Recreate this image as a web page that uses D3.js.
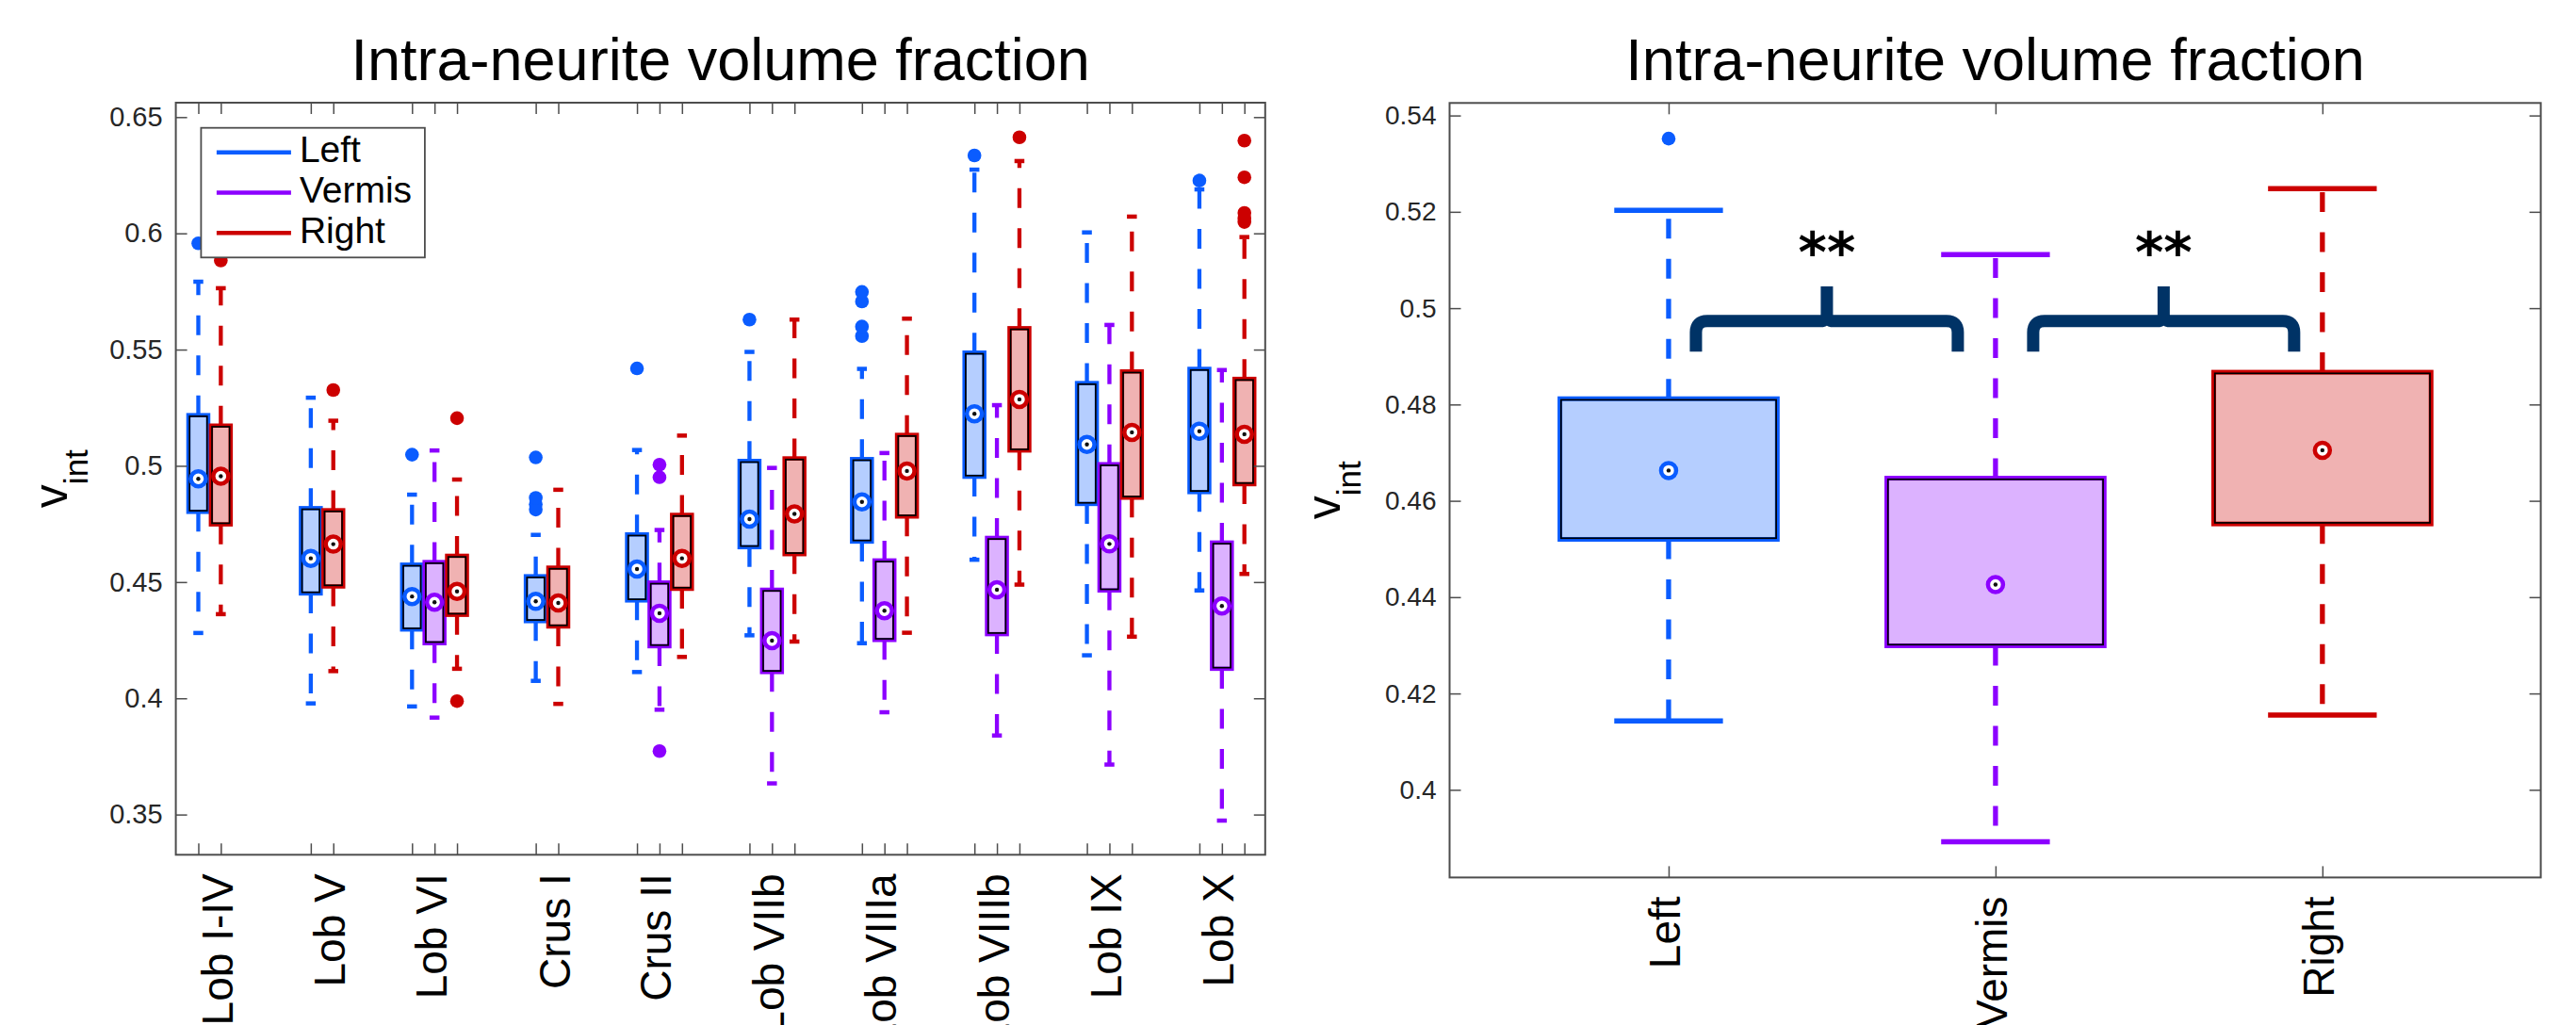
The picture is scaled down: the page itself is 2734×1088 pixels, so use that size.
<!DOCTYPE html>
<html><head><meta charset="utf-8">
<script src="https://cdn.jsdelivr.net/npm/d3@7"></script>
<style>
body{margin:0;background:#fff;}
svg{display:block;font-family:"Liberation Sans",Arial,Helvetica,sans-serif;}
</style></head><body>
<svg id="c" width="2734" height="1088"></svg>
<script>
// ---------------- DATA ----------------
const titleText = "Intra-neurite volume fraction";
const regions = ["Lob I-IV","Lob V","Lob VI","Crus I","Crus II","Lob VIIb","Lob VIIIa","Lob VIIIb","Lob IX","Lob X"];
const sides = ["Left","Vermis","Right"];
// each row: [lower whisker, Q1, median, Q3, upper whisker]
const leftStats = [
  [0.4281,0.4802,0.4944,0.5218,0.5792],
  [0.3978,0.4451,0.4602,0.4818,0.5293],
  [0.3965,0.4296,0.4438,0.4575,0.4876],
  [0.4075,0.4332,0.4417,0.4525,0.4703],
  [0.4113,0.4421,0.4556,0.4705,0.5068],
  [0.4271,0.4650,0.4771,0.5021,0.5490],
  [0.4237,0.4674,0.4845,0.5029,0.5417],
  [0.4596,0.4953,0.5224,0.5487,0.6274],
  [0.4185,0.4836,0.5092,0.5356,0.6004],
  [0.4464,0.4887,0.5149,0.5417,0.6189]
];
const vermisStats = [
  null,
  null,
  [0.3917,0.4237,0.4413,0.4586,0.5066],
  null,
  [0.3951,0.4224,0.4366,0.4498,0.4724],
  [0.3634,0.4113,0.4248,0.4467,0.4991],
  [0.3940,0.4251,0.4377,0.4593,0.5055],
  [0.3840,0.4276,0.4467,0.4690,0.5261],
  [0.3715,0.4464,0.4664,0.5007,0.5606],
  [0.3474,0.4127,0.4397,0.4670,0.5412]
];
const rightStats = [
  [0.4362,0.4748,0.4955,0.5173,0.5764],
  [0.4117,0.4481,0.4663,0.4809,0.5194],
  [0.4127,0.4359,0.4460,0.4613,0.4941],
  [0.3976,0.4309,0.4410,0.4562,0.4897],
  [0.4178,0.4471,0.4602,0.4789,0.5130],
  [0.4244,0.4620,0.4793,0.5032,0.5629],
  [0.4282,0.4782,0.4978,0.5133,0.5633],
  [0.4489,0.5066,0.5286,0.5592,0.6311],
  [0.4265,0.4863,0.5144,0.5406,0.6072],
  [0.4535,0.4921,0.5136,0.5374,0.5984]
];
const leftOutliers = [[0.5957],[],[0.5048],[0.4812,0.4835,0.4862,0.5036],[0.5419],[0.5629],[0.5558,0.5599,0.5707,0.5748],[0.6335],[],[0.6227]];
const vermisOutliers = [[],[],[],[],[0.3773,0.4951,0.5005],[],[],[],[],[]];
const rightOutliers = [[0.5883],[0.5326],[0.3988,0.5205],[],[],[],[],[0.6413],[],[0.6049,0.6065,0.6088,0.6241,0.6399]];
const yTicksLeft = [0.35,0.4,0.45,0.5,0.55,0.6,0.65];
const yTickLabelsLeft = ["0.35","0.4","0.45","0.5","0.55","0.6","0.65"];

const summaryCategories = ["Left","Vermis","Right"];
const summaryStats = [
  [0.4143,0.4520,0.4663,0.4812,0.5203],
  [0.3892,0.4299,0.4426,0.4647,0.5111],
  [0.4155,0.4552,0.4705,0.4867,0.5248]
];
const summaryOutliers = [[0.5352],[],[]];
const yTicksRight = [0.4,0.42,0.44,0.46,0.48,0.5,0.52,0.54];
const yTickLabelsRight = ["0.4","0.42","0.44","0.46","0.48","0.5","0.52","0.54"];
const comparisons = [["Left","Vermis"],["Vermis","Right"]];
const comparisonLabels = ["**","**"];

// ---------------- STYLE ----------------
const colors = {Left:"#0a5cff", Vermis:"#8c00ff", Right:"#cc0000"};
const axisColor = "#4d4d4d", labelColor = "#262626", braceColor = "#003366";

const svg = d3.select("#c");
svg.append("rect").attr("width",2734).attr("height",1088).attr("fill","#fff");

function drawBox(g, x, s, outs, color, ys, cfg){
  const hw = cfg.boxW/2, hc = cfg.capW/2;
  const dash = "21,21.5";
  g.append("line").attr("x1",x).attr("x2",x).attr("y1",ys(s[3])).attr("y2",ys(s[4]))
    .attr("stroke",color).attr("stroke-width",cfg.ww).attr("stroke-dasharray",dash);
  g.append("line").attr("x1",x).attr("x2",x).attr("y1",ys(s[1])).attr("y2",ys(s[0]))
    .attr("stroke",color).attr("stroke-width",cfg.ww).attr("stroke-dasharray",dash);
  [s[0],s[4]].forEach(v=>{
    g.append("line").attr("x1",x-hc).attr("x2",x+hc).attr("y1",ys(v)).attr("y2",ys(v))
      .attr("stroke",color).attr("stroke-width",cfg.cw);
  });
  const yt = ys(s[3]), yb = ys(s[1]);
  g.append("rect").attr("x",x-hw).attr("y",yt).attr("width",cfg.boxW).attr("height",yb-yt)
    .attr("fill",color).attr("fill-opacity",0.3).attr("stroke",color).attr("stroke-width",cfg.bw);
  g.append("rect").attr("x",x-hw+1.2).attr("y",yt+1.2).attr("width",cfg.boxW-2.4).attr("height",yb-yt-2.4)
    .attr("fill","none").attr("stroke","#000").attr("stroke-width",1.7);
  g.append("circle").attr("cx",x).attr("cy",ys(s[2])).attr("r",8)
    .attr("fill","#fff").attr("stroke",color).attr("stroke-width",4.5);
  g.append("circle").attr("cx",x).attr("cy",ys(s[2])).attr("r",2.2).attr("fill","#111");
  outs.forEach(v=>{
    g.append("circle").attr("cx",x).attr("cy",ys(v)).attr("r",7.3).attr("fill",color);
  });
}

function styleAxis(sel, fs){
  sel.select(".domain").remove();
  sel.selectAll("line").attr("stroke",axisColor).attr("stroke-width",1.5);
  sel.selectAll("text").attr("fill",labelColor).attr("font-size",fs)
     .attr("font-family","'Liberation Sans',Arial,sans-serif");
}

function yLabel(g, x, y){
  const t = g.append("text").attr("transform",`translate(${x},${y}) rotate(-90)`)
    .attr("text-anchor","middle").attr("fill","#000");
  t.append("tspan").attr("font-size",50).text("v");
  t.append("tspan").attr("font-size",35).attr("dy",22).text("int");
}

// ---------------- LEFT CHART ----------------
{
  const L = {x0:186.6, x1:1342.8, y0:109, y1:907.3};
  const g = svg.append("g");
  const x = d3.scaleLinear().domain([-0.30, 9.385]).range([L.x0, L.x1]);
  const y = d3.scaleLinear().domain([0.3327, 0.6562]).range([L.y1, L.y0]);
  const statsBySide = {Left:leftStats, Vermis:vermisStats, Right:rightStats};
  const outBySide = {Left:leftOutliers, Vermis:vermisOutliers, Right:rightOutliers};

  // positions of boxes per region
  const positions = regions.map((r,i)=>{
    const present = sides.filter(sd=>statsBySide[sd][i]);
    const offs = present.length===3 ? [-0.2,0,0.2] : [-0.1,0.1];
    return present.map((sd,k)=>({side:sd, pos:i+offs[k]}));
  });
  const allPos = positions.flat().map(d=>d.pos);
  const labelPos = positions.map(p=>p[1].pos);

  const pxW = x(0.176)-x(0);
  const cfg = {boxW:pxW, capW:pxW/2, ww:4.3, cw:4.5, bw:4.5};

  regions.forEach((r,i)=>{
    positions[i].forEach(p=>{
      drawBox(g, x(p.pos), statsBySide[p.side][i], outBySide[p.side][i], colors[p.side], y, cfg);
    });
  });

  // axes
  g.append("g").attr("transform",`translate(${L.x0},0)`)
    .call(d3.axisLeft(y).tickValues(yTicksLeft).tickFormat((d,i)=>yTickLabelsLeft[i]).tickSize(-12).tickPadding(14))
    .call(s=>styleAxis(s,29));
  g.append("g").attr("transform",`translate(${L.x1},0)`)
    .call(d3.axisRight(y).tickValues(yTicksLeft).tickFormat(()=>"").tickSize(-12)).call(s=>styleAxis(s,29));
  g.append("g").attr("transform",`translate(0,${L.y0})`)
    .call(d3.axisTop(x).tickValues(allPos).tickFormat(()=>"").tickSize(-12)).call(s=>styleAxis(s,29));
  g.append("g").attr("transform",`translate(0,${L.y1})`)
    .call(d3.axisBottom(x).tickValues(allPos).tickFormat(()=>"").tickSize(-12)).call(s=>styleAxis(s,29));
  const xl = g.append("g").attr("transform",`translate(0,${L.y1})`)
    .call(d3.axisBottom(x).tickValues(labelPos).tickFormat((d,i)=>regions[i]).tickSize(0));
  xl.select(".domain").remove();
  xl.selectAll("text").attr("transform","rotate(-90)").attr("text-anchor","end")
    .attr("x",-20).attr("y",0).attr("dy",12).attr("font-size",46).attr("fill","#000")
    .attr("font-family","'Liberation Sans',Arial,sans-serif");
  g.append("rect").attr("x",L.x0).attr("y",L.y0).attr("width",L.x1-L.x0).attr("height",L.y1-L.y0)
    .attr("fill","none").attr("stroke",axisColor).attr("stroke-width",2);

  g.append("text").attr("x",(L.x0+L.x1)/2).attr("y",85).attr("text-anchor","middle")
    .attr("font-size",63).attr("fill","#000").text(titleText);
  yLabel(g, 71.4, (L.y0+L.y1)/2);

  // legend
  const lg = g.append("g");
  lg.append("rect").attr("x",213.4).attr("y",135.7).attr("width",237.5).attr("height",137.6)
    .attr("fill","#fff").attr("stroke",axisColor).attr("stroke-width",1.8);
  sides.forEach((sd,i)=>{
    const ly = 161.7 + i*42.8;
    lg.append("line").attr("x1",229.9).attr("x2",308.9).attr("y1",ly).attr("y2",ly)
      .attr("stroke",colors[sd]).attr("stroke-width",4.5);
    lg.append("text").attr("x",317.9).attr("y",ly+10.5).attr("font-size",39).attr("fill","#000").text(sd);
  });
}

// ---------------- RIGHT CHART ----------------
{
  const R = {x0:1538.5, x1:2696.6, y0:109.3, y1:931.4};
  const g = svg.append("g");
  const x = d3.scaleLinear().domain([0.33, 3.668]).range([R.x0, R.x1]);
  const y = d3.scaleLinear().domain([0.3818, 0.5426]).range([R.y1, R.y0]);
  const pos = summaryCategories.map((c,i)=>i+1);
  const pxW = x(0.665)-x(0);
  const cfg = {boxW:pxW, capW:pxW/2, ww:5.3, cw:5.5, bw:5};
  summaryCategories.forEach((c,i)=>{
    drawBox(g, x(pos[i]), summaryStats[i], summaryOutliers[i], colors[c], y, cfg);
  });

  g.append("g").attr("transform",`translate(${R.x0},0)`)
    .call(d3.axisLeft(y).tickValues(yTicksRight).tickFormat((d,i)=>yTickLabelsRight[i]).tickSize(-12).tickPadding(14))
    .call(s=>styleAxis(s,28));
  g.append("g").attr("transform",`translate(${R.x1},0)`)
    .call(d3.axisRight(y).tickValues(yTicksRight).tickFormat(()=>"").tickSize(-12)).call(s=>styleAxis(s,28));
  g.append("g").attr("transform",`translate(0,${R.y0})`)
    .call(d3.axisTop(x).tickValues(pos).tickFormat(()=>"").tickSize(-12)).call(s=>styleAxis(s,28));
  const xb = g.append("g").attr("transform",`translate(0,${R.y1})`)
    .call(d3.axisBottom(x).tickValues(pos).tickFormat((d,i)=>summaryCategories[i]).tickSize(-12));
  styleAxis(xb,46);
  xb.selectAll("text").attr("transform","rotate(-90)").attr("text-anchor","end")
    .attr("x",-20).attr("y",0).attr("dy",12).attr("fill","#000");
  g.append("rect").attr("x",R.x0).attr("y",R.y0).attr("width",R.x1-R.x0).attr("height",R.y1-R.y0)
    .attr("fill","none").attr("stroke",axisColor).attr("stroke-width",2);

  g.append("text").attr("x",(R.x0+R.x1)/2).attr("y",85).attr("text-anchor","middle")
    .attr("font-size",63).attr("fill","#000").text(titleText);
  yLabel(g, 1422.4, (R.y0+R.y1)/2);

  // significance braces
  const insets = [[29,40],[40,30]];
  const barV = 0.49732, footV = 0.49095, tipV = 0.5045, starV = 0.5077;
  comparisons.forEach((cmp,k)=>{
    const xa = x(pos[summaryCategories.indexOf(cmp[0])]) + insets[k][0];
    const xbb = x(pos[summaryCategories.indexOf(cmp[1])]) - insets[k][1];
    const xc = (xa+xbb)/2;
    const yb = y(barV), yf = y(footV), yt = y(tipV);
    const r = 12, r2 = 7;
    const p = d3.path();
    p.moveTo(xa, yf); p.lineTo(xa, yb + r); p.quadraticCurveTo(xa, yb, xa + r, yb);
    p.lineTo(xc - r2, yb); p.quadraticCurveTo(xc, yb, xc, yb - r2); p.lineTo(xc, yt);
    p.moveTo(xbb, yf); p.lineTo(xbb, yb + r); p.quadraticCurveTo(xbb, yb, xbb - r, yb);
    p.lineTo(xc + r2, yb); p.quadraticCurveTo(xc, yb, xc, yb - r2);
    g.append("path").attr("d",p.toString()).attr("fill","none").attr("stroke",braceColor)
      .attr("stroke-width",13);
    g.append("text").attr("x",xc).attr("y",y(starV)).attr("text-anchor","middle")
      .attr("font-family","'DejaVu Sans',sans-serif").attr("font-weight","bold")
      .attr("font-size",58).attr("fill","#000").text(comparisonLabels[k]);
  });
}
</script>
</body></html>
